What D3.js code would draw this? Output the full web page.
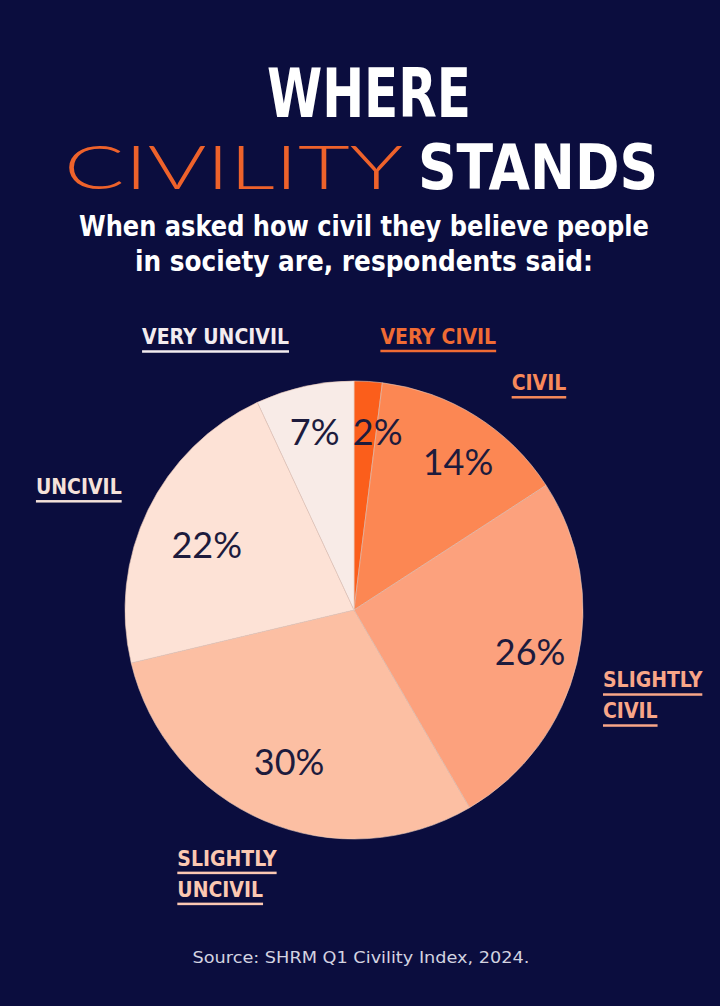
<!DOCTYPE html>
<html>
<head>
<meta charset="utf-8">
<script src="https://cdn.jsdelivr.net/npm/d3@7"></script>
<style>
  html, body { margin: 0; padding: 0; background: #0b0d3e; }
  svg { display: block; }
</style>
</head>
<body>
<div id="chart"></div>
<script>
// data
var categories = ["VERY CIVIL", "CIVIL", "SLIGHTLY CIVIL", "SLIGHTLY UNCIVIL", "UNCIVIL", "VERY UNCIVIL"];
var shares = [2, 14, 26, 30, 22, 7];
var sliceColors = ["#fb5e1b", "#fc8753", "#fca17d", "#fcbfa3", "#fde2d6", "#f8ebe7"];
var nameColors = ["#f06b34", "#f7895a", "#f9a688", "#fbc8b2", "#f5e2da", "#f3ecef"];
// label lines for the outer names
var nameLines = [["VERY CIVIL"], ["CIVIL"], ["SLIGHTLY", "CIVIL"], ["SLIGHTLY", "UNCIVIL"], ["UNCIVIL"], ["VERY UNCIVIL"]];

var width = 720, height = 1006;
var cx = 354, cy = 610, radius = 229;
var condensed = "'Liberation Sans Narrow', 'DejaVu Sans Condensed', 'Roboto Condensed', sans-serif";

var svg = d3.select("#chart").append("svg")
    .attr("width", width)
    .attr("height", height);

svg.append("rect")
    .attr("width", width)
    .attr("height", height)
    .attr("fill", "#0b0d3e");

// title
svg.append("text")
    .attr("x", 369).attr("y", 117)
    .attr("text-anchor", "middle")
    .attr("font-family", condensed)
    .attr("font-weight", 700)
    .attr("font-size", 68)
    .attr("textLength", 204)
    .attr("lengthAdjust", "spacingAndGlyphs")
    .attr("fill", "#ffffff")
    .text("WHERE");

svg.append("text")
    .attr("x", 64).attr("y", 189)
    .attr("font-family", "Lato, 'Open Sans', sans-serif")
    .attr("font-weight", 300)
    .attr("font-size", 62)
    .attr("textLength", 339)
    .attr("lengthAdjust", "spacingAndGlyphs")
    .attr("fill", "#ee622b")
    .text("CIVILITY");

svg.append("text")
    .attr("x", 418).attr("y", 189)
    .attr("font-family", condensed)
    .attr("font-weight", 700)
    .attr("font-size", 62)
    .attr("textLength", 240)
    .attr("lengthAdjust", "spacingAndGlyphs")
    .attr("fill", "#ffffff")
    .text("STANDS");

var subtitle = ["When asked how civil they believe people", "in society are, respondents said:"];
var subWidth = [570, 458];
svg.selectAll("text.sub")
    .data(subtitle)
    .enter().append("text")
    .attr("class", "sub")
    .attr("x", 364)
    .attr("y", function (d, i) { return 236 + i * 35; })
    .attr("text-anchor", "middle")
    .attr("font-family", condensed)
    .attr("font-weight", 700)
    .attr("font-size", 29)
    .attr("textLength", function (d, i) { return subWidth[i]; })
    .attr("lengthAdjust", "spacingAndGlyphs")
    .attr("fill", "#ffffff")
    .text(function (d) { return d; });

// pie
var pie = d3.pie().sort(null).value(function (d) { return d; });
var arcs = pie(shares);
var arc = d3.arc().innerRadius(0).outerRadius(radius);

var g = svg.append("g").attr("transform", "translate(" + cx + "," + cy + ")");

g.selectAll("path")
    .data(arcs)
    .enter().append("path")
    .attr("d", arc)
    .attr("fill", function (d, i) { return sliceColors[i]; })
    .attr("stroke", "#e9c9bb")
    .attr("stroke-width", 0.6);

// percentage labels: radius along centroid direction, small angle nudge
var pctRadius = [180, 181, 181, 165, 161, 182];
var pctNudge = [4, 3, 0, 0, -2, 0];
g.selectAll("text.pct")
    .data(arcs)
    .enter().append("text")
    .attr("class", "pct")
    .attr("transform", function (d, i) {
        var a = (d.startAngle + d.endAngle) / 2 + pctNudge[i] * Math.PI / 180;
        var r = pctRadius[i];
        return "translate(" + (Math.sin(a) * r) + "," + (-Math.cos(a) * r) + ")";
    })
    .attr("text-anchor", "middle")
    .attr("dy", "0.36em")
    .attr("font-family", "Lato, 'Open Sans', sans-serif")
    .attr("font-size", 36)
    .attr("fill", "#1d1b3d")
    .text(function (d) { return d.value + "%"; });

// outer category names, placed by angle / distance from the centre
var nameAngle = [17.2, 39.3, 106.2, 205.6, 293.9, 333];
var nameDist = [285, 292, 311, 294, 301, 305];
var lineGap = 31;

var names = g.selectAll("g.name")
    .data(arcs)
    .enter().append("g")
    .attr("class", "name")
    .attr("transform", function (d, i) {
        var a = nameAngle[i] * Math.PI / 180;
        var y0 = -Math.cos(a) * nameDist[i] - (nameLines[i].length - 1) * lineGap / 2;
        return "translate(" + (Math.sin(a) * nameDist[i]) + "," + y0 + ")";
    });

names.each(function (d, i) {
    var el = d3.select(this);
    var texts = nameLines[i].map(function (line, j) {
        return el.append("text")
            .attr("y", j * lineGap + 6)
            .attr("font-family", condensed)
            .attr("font-weight", 700)
            .attr("font-size", 21)
            .attr("fill", nameColors[i])
            .text(line);
    });
    var widths = texts.map(function (t) { return t.node().getComputedTextLength(); });
    var mw = d3.max(widths);
    // lines are left aligned, each underlined to its own width
    texts.forEach(function (t, j) {
        t.attr("x", -mw / 2);
        el.append("rect")
            .attr("x", -mw / 2)
            .attr("y", j * lineGap + 12)
            .attr("width", widths[j])
            .attr("height", 2.5)
            .attr("fill", nameColors[i]);
    });
});

// source
svg.append("text")
    .attr("x", 361).attr("y", 963)
    .attr("text-anchor", "middle")
    .attr("font-family", "'DejaVu Sans', sans-serif")
    .attr("font-size", 15)
    .attr("textLength", 337)
    .attr("lengthAdjust", "spacingAndGlyphs")
    .attr("fill", "#d3d3e0")
    .text("Source: SHRM Q1 Civility Index, 2024.");
</script>
</body>
</html>
